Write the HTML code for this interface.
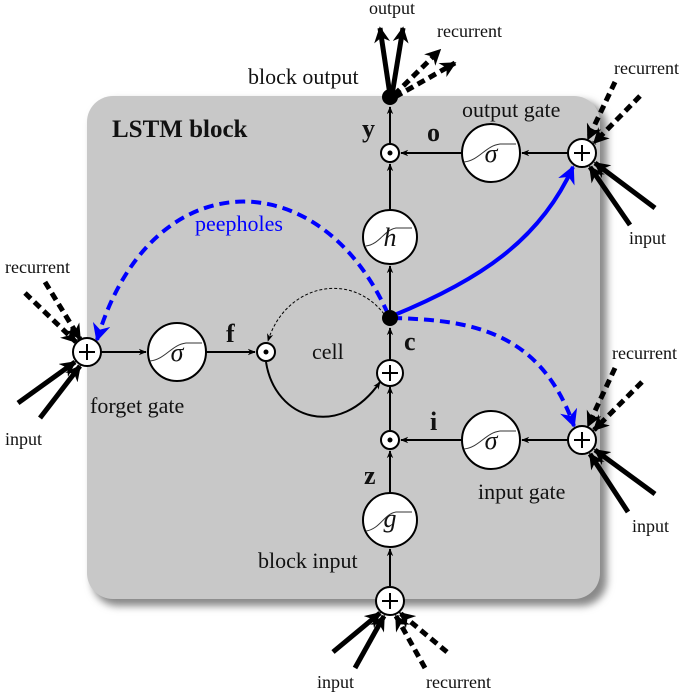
<!DOCTYPE html>
<html><head><meta charset="utf-8"><style>
html,body{margin:0;padding:0;background:#fff}
svg text{font-family:"Liberation Serif",serif;fill:#111}
</style></head><body>
<svg width="685" height="692" viewBox="0 0 685 692" xmlns="http://www.w3.org/2000/svg">
<defs>
<marker id="a" viewBox="0 0 10 10" refX="9" refY="5" markerWidth="8" markerHeight="8" markerUnits="userSpaceOnUse" orient="auto"><path d="M0,1 L10,5 L0,9 L3,5z" fill="#000"/></marker>
<marker id="ab" viewBox="0 0 10 10" refX="9" refY="5" markerWidth="16" markerHeight="16" markerUnits="userSpaceOnUse" orient="auto"><path d="M0,0 L10,5 L0,10 L3,5z" fill="#000"/></marker>
<marker id="bl" viewBox="0 0 10 10" refX="9" refY="5" markerWidth="18" markerHeight="18" markerUnits="userSpaceOnUse" orient="auto"><path d="M0,0 L10,5 L0,10 L3,5z" fill="#00f"/></marker>
<filter id="sh" x="-5%" y="-5%" width="115%" height="115%"><feGaussianBlur stdDeviation="4"/></filter>
</defs>
<rect x="92" y="101" width="515" height="505" rx="26" fill="#888" filter="url(#sh)"/>
<rect x="87" y="96" width="513" height="503" rx="26" fill="#c8c8c8"/>

<g stroke="#000" stroke-width="2" fill="none">
<line x1="390" y1="586" x2="390" y2="549" marker-end="url(#a)"/>
<line x1="390" y1="493" x2="390" y2="451" marker-end="url(#a)"/>
<line x1="390" y1="431" x2="390" y2="387" marker-end="url(#a)"/>
<line x1="390" y1="361" x2="390" y2="328" marker-end="url(#a)"/>
<line x1="390" y1="310" x2="390" y2="266" marker-end="url(#a)"/>
<line x1="390" y1="210" x2="390" y2="164" marker-end="url(#a)"/>
<line x1="390" y1="144" x2="390" y2="107" marker-end="url(#a)"/>
<line x1="568" y1="153" x2="522" y2="153" marker-end="url(#a)"/>
<line x1="462" y1="153" x2="401" y2="153" marker-end="url(#a)"/>
<line x1="568" y1="440" x2="522" y2="440" marker-end="url(#a)"/>
<line x1="462" y1="440" x2="401" y2="440" marker-end="url(#a)"/>
<line x1="101" y1="352" x2="146" y2="352" marker-end="url(#a)"/>
<line x1="206" y1="352" x2="255" y2="352" marker-end="url(#a)"/>
<path d="M266,362 C275,420 340,440 380,382" marker-end="url(#a)"/>
<path d="M384,314 C350,270 285,285 268,341" stroke-width="1" stroke-dasharray="3,2" marker-end="url(#a)"/>
</g>

<g fill="none" stroke="#00f" stroke-width="4">
<path d="M392,316 C480,280 540,240 573,167" marker-end="url(#bl)"/>
<path d="M392,318 C470,320 540,330 574,426" stroke-dasharray="10,6" marker-end="url(#bl)"/>
<path d="M388,314 C320,160 150,160 97,340" stroke-dasharray="10,6" marker-end="url(#bl)"/>
</g>

<g stroke="#000" stroke-width="5" fill="none">
<line x1="390" y1="95" x2="380" y2="28" marker-end="url(#ab)"/>
<line x1="392" y1="95" x2="403" y2="28" marker-end="url(#ab)"/>
<line x1="394" y1="95" x2="440" y2="50" stroke-dasharray="8,5" marker-end="url(#ab)"/>
<line x1="395" y1="97" x2="455" y2="63" stroke-dasharray="8,5" marker-end="url(#ab)"/>
<line x1="615" y1="82" x2="588" y2="139" stroke-dasharray="8,5" marker-end="url(#ab)"/>
<line x1="640" y1="96" x2="594" y2="143" stroke-dasharray="8,5" marker-end="url(#ab)"/>
<line x1="630" y1="225" x2="590" y2="167" marker-end="url(#ab)"/>
<line x1="655" y1="208" x2="595" y2="163" marker-end="url(#ab)"/>
<line x1="615" y1="368" x2="588" y2="426" stroke-dasharray="8,5" marker-end="url(#ab)"/>
<line x1="642" y1="382" x2="594" y2="430" stroke-dasharray="8,5" marker-end="url(#ab)"/>
<line x1="628" y1="512" x2="590" y2="454" marker-end="url(#ab)"/>
<line x1="655" y1="494" x2="595" y2="450" marker-end="url(#ab)"/>
<line x1="25" y1="293" x2="76" y2="342" stroke-dasharray="8,5" marker-end="url(#ab)"/>
<line x1="45" y1="282" x2="80" y2="339" stroke-dasharray="8,5" marker-end="url(#ab)"/>
<line x1="18" y1="403" x2="75" y2="362" marker-end="url(#ab)"/>
<line x1="40" y1="418" x2="80" y2="366" marker-end="url(#ab)"/>
<line x1="333" y1="652" x2="380" y2="613" marker-end="url(#ab)"/>
<line x1="355" y1="668" x2="384" y2="616" marker-end="url(#ab)"/>
<line x1="425" y1="668" x2="396" y2="616" stroke-dasharray="8,5" marker-end="url(#ab)"/>
<line x1="447" y1="652" x2="400" y2="613" stroke-dasharray="8,5" marker-end="url(#ab)"/>
</g>

<g stroke="#000" stroke-width="2" fill="#fff">
<circle cx="390" cy="237" r="27"/>
<circle cx="390" cy="520" r="27"/>
<circle cx="491" cy="153" r="29"/>
<circle cx="491" cy="440" r="29"/>
<circle cx="177" cy="352" r="29"/>
<circle cx="390" cy="153" r="9"/>
<circle cx="390" cy="440" r="9"/>
<circle cx="266" cy="352" r="9"/>
<circle cx="390" cy="373" r="13"/>
<circle cx="582" cy="153" r="14"/>
<circle cx="582" cy="440" r="14"/>
<circle cx="87" cy="352" r="14"/>
<circle cx="390" cy="601" r="14"/>
</g>
<g fill="#000">
<circle cx="390" cy="97" r="8"/><circle cx="390" cy="318" r="8"/>
<circle cx="390" cy="153" r="2.5"/><circle cx="390" cy="440" r="2.5"/><circle cx="266" cy="352" r="2.5"/>
</g>
<g stroke="#000" stroke-width="2">
<path d="M390,365v16M382,373h16"/><path d="M582,145v16M574,153h16"/><path d="M582,432v16M574,440h16"/>
<path d="M87,344v16M79,352h16"/><path d="M390,593v16M382,601h16"/>
</g>
<g stroke="#333" stroke-width="1" fill="none">
<path d="M464,162 C480,160 485,146 500,144 L516,144"/><path d="M464,449 C480,447 485,433 500,431 L516,431"/>
<path d="M150,361 C166,359 171,345 186,343 L202,343"/><path d="M366,531 C380,529 384,514 396,512 L412,512"/>
<path d="M366,246 C380,244 384,230 396,228 L412,228"/>
</g>
<g font-style="italic" font-size="26" text-anchor="middle">
<text x="491" y="162">σ</text><text x="491" y="449">σ</text><text x="177" y="361">σ</text>
<text x="390" y="246">h</text><text x="390" y="527">g</text>
</g>

<g font-size="22">
<text x="112" y="137" font-weight="bold" font-size="25">LSTM block</text>
<text x="248" y="84">block output</text>
<text x="462" y="117">output gate</text>
<text x="195" y="231" style="fill:#00f">peepholes</text>
<text x="312" y="359">cell</text>
<text x="90" y="413">forget gate</text>
<text x="478" y="499">input gate</text>
<text x="258" y="568">block input</text>
<text x="362" y="137" font-weight="bold" font-size="26">y</text>
<text x="427" y="141" font-weight="bold" font-size="26">o</text>
<text x="404" y="350" font-weight="bold" font-size="26">c</text>
<text x="226" y="342" font-weight="bold" font-size="26">f</text>
<text x="430" y="430" font-weight="bold" font-size="26">i</text>
<text x="364" y="484" font-weight="bold" font-size="26">z</text>
</g>
<g font-size="18">
<text x="369" y="14">output</text>
<text x="437" y="37">recurrent</text>
<text x="614" y="74">recurrent</text>
<text x="629" y="244">input</text>
<text x="5" y="273">recurrent</text>
<text x="5" y="445">input</text>
<text x="612" y="359">recurrent</text>
<text x="632" y="532">input</text>
<text x="317" y="688">input</text>
<text x="426" y="688">recurrent</text>
</g>
</svg>
</body></html>
